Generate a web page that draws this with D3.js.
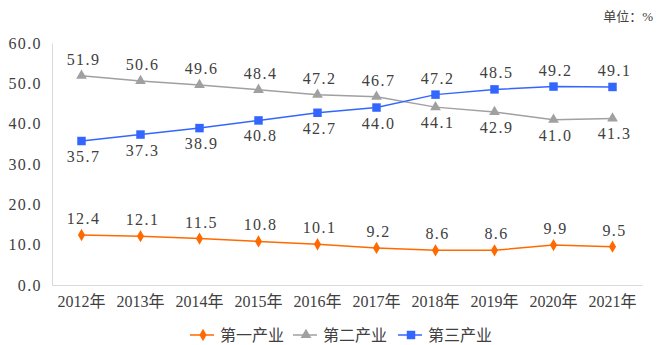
<!DOCTYPE html>
<html>
<head>
<meta charset="UTF-8">
<title>三次产业构成</title>
<script src="https://d3js.org/d3.v7.min.js"></script>
<style>
  body { margin: 0; background: #fff; }
  svg text { font-family: "Liberation Serif", "Noto Sans CJK SC", serif; fill: #404040; }
  .num { letter-spacing: 1.4px; }
</style>
</head>
<body>
<svg width="661" height="345"></svg>
<script>

var years = ["2012年", "2013年", "2014年", "2015年", "2016年", "2017年", "2018年", "2019年", "2020年", "2021年"];
var primary = [12.4, 12.1, 11.5, 10.8, 10.1, 9.2, 8.6, 8.6, 9.9, 9.5];
var secondary = [51.9, 50.6, 49.6, 48.4, 47.2, 46.7, 44.1, 42.9, 41.0, 41.3];
var tertiary = [35.7, 37.3, 38.9, 40.8, 42.7, 44.0, 47.2, 48.5, 49.2, 49.1];
var yTicks = [0, 10, 20, 30, 40, 50, 60];
var seriesNames = ["第一产业", "第二产业", "第三产业"];

var svg = d3.select("svg"),
    margin = {top: 43, right: 19, bottom: 60, left: 52},
    width = +svg.attr("width") - margin.left - margin.right,
    height = +svg.attr("height") - margin.top - margin.bottom;

var x = d3.scaleBand().domain(years).range([0, width]),
    y = d3.scaleLinear().domain([0, 60]).range([height, 0]);

var g = svg.append("g")
    .attr("transform", "translate(" + margin.left + "," + margin.top + ")");

var fmt = d3.format(".1f");

// axes: thin grey lines, no tick marks
g.append("g")
    .attr("transform", "translate(0," + height + ")")
    .call(d3.axisBottom(x).tickSize(0).tickPadding(11))
    .call(function(a) {
      a.attr("font-family", null);
      a.select(".domain").attr("stroke", "#d9d9d9");
      a.selectAll("text").style("font-size", "16px").attr("fill", "#404040");
    });

g.append("g")
    .call(d3.axisLeft(y).tickValues(yTicks).tickSize(0).tickPadding(10).tickFormat(fmt))
    .call(function(a) {
      a.attr("font-family", null);
      a.select(".domain").attr("stroke", "#d9d9d9");
      a.selectAll("text").attr("class", "num").style("font-size", "16px").attr("fill", "#404040");
    });

var series = [
  {name: seriesNames[0], values: primary, color: "#ff6a00", marker: d3.symbolDiamond, size: 44, labelPos: function() { return "up"; }},
  {name: seriesNames[1], values: secondary, color: "#a0a0a0", marker: d3.symbolTriangle, size: 50, labelPos: function(i) { return i < 6 ? "up" : "down"; }},
  {name: seriesNames[2], values: tertiary, color: "#3366ff", marker: d3.symbolSquare, size: 72, labelPos: function(i) { return i < 6 ? "down" : "up"; }}
];

var cx = function(i) { return x(years[i]) + x.bandwidth() / 2; };

var line = d3.line()
    .x(function(d, i) { return cx(i); })
    .y(function(d) { return y(d); });

series.forEach(function(s) {
  var sg = g.append("g");

  sg.append("path")
      .datum(s.values)
      .attr("fill", "none")
      .attr("stroke", s.color)
      .attr("stroke-width", 1.5)
      .attr("d", line);

  sg.selectAll(".mark")
    .data(s.values)
    .enter().append("path")
      .attr("d", d3.symbol().type(s.marker).size(s.size))
      .attr("fill", s.color)
      .attr("transform", function(d, i) { return "translate(" + cx(i) + "," + y(d) + ")"; });

  sg.selectAll(".lbl")
    .data(s.values)
    .enter().append("text")
      .attr("class", "num")
      .attr("x", function(d, i) { return cx(i) + 2; })
      .attr("y", function(d, i) { return y(d) + (s.labelPos(i) === "up" ? -11 : 21); })
      .attr("text-anchor", "middle")
      .style("font-size", "16px")
      .text(fmt);
});

// unit note
svg.append("text")
    .attr("x", 653)
    .attr("y", 21)
    .attr("text-anchor", "end")
    .style("font-size", "13px")
    .text("单位：%");

// legend
var legend = svg.append("g").attr("transform", "translate(190,335)");
var lx = [0, 103, 208];
series.forEach(function(s, i) {
  var lg = legend.append("g").attr("transform", "translate(" + lx[i] + ",0)");
  lg.append("line")
      .attr("x1", 0).attr("x2", 24)
      .attr("stroke", s.color)
      .attr("stroke-width", 1.5);
  lg.append("path")
      .attr("d", d3.symbol().type(s.marker).size(s.size))
      .attr("fill", s.color)
      .attr("transform", "translate(13,0)");
  lg.append("text")
      .attr("x", 30)
      .attr("dy", "0.35em")
      .style("font-size", "16px")
      .text(s.name);
});

</script>
</body>
</html>
